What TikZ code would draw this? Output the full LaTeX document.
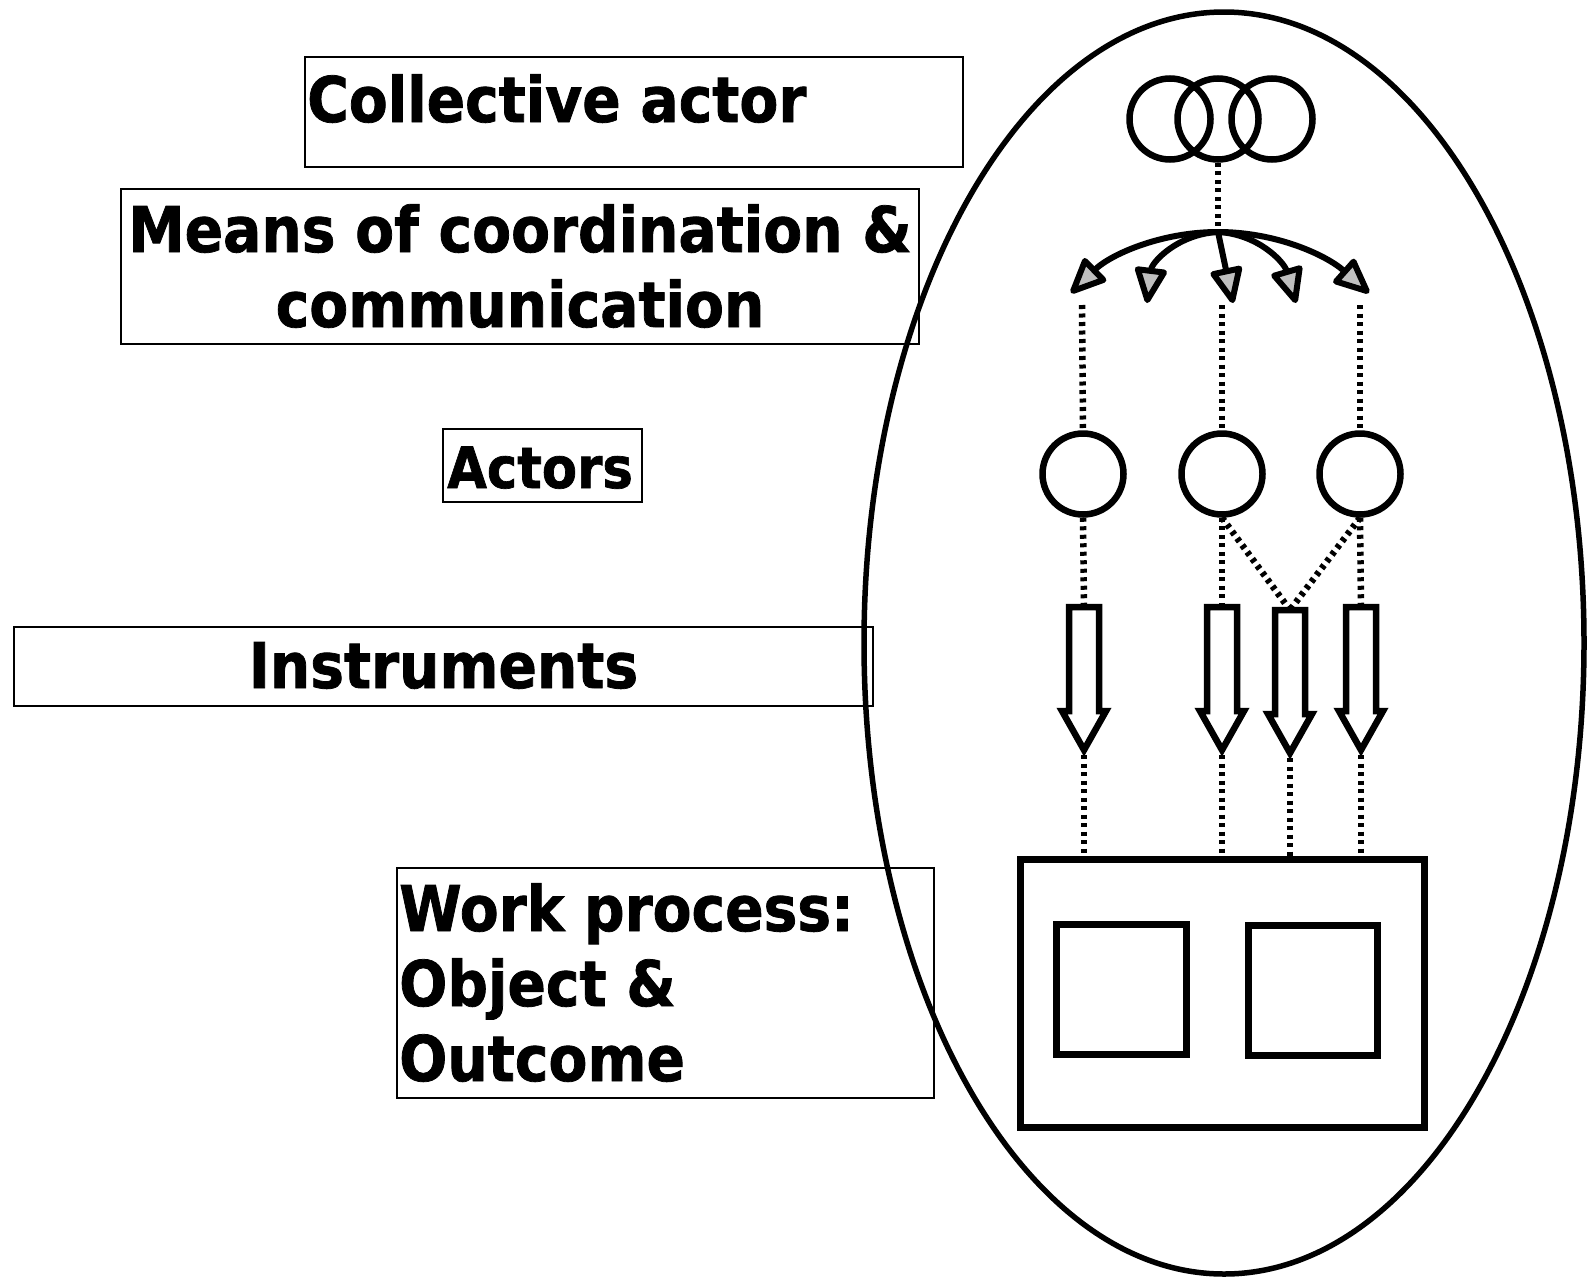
\documentclass[tikz,border=0pt]{standalone}
\usepackage{fontspec}
\newfontfamily\labfont{DejaVu Sans Bold}[FakeStretch=0.9,FakeBold=1.2]
\usetikzlibrary{arrows.meta,calc}
\begin{document}
\begin{tikzpicture}[x=1pt,y=-1pt,
  tbox/.style={draw=black, line width=1.8pt, inner sep=0pt, outer sep=0pt},
  lab/.style={font=\labfont\fontsize{63}{75}\selectfont, inner sep=0pt},
  ring/.style={circle, draw, line width=6.5pt, minimum size=81pt, inner sep=0pt},
  sq/.style={rectangle, draw, line width=7pt, inner sep=0pt},
  dots/.style={line width=6.5pt, dash pattern=on 4pt off 4.5pt},
  garrow/.style={line width=6pt, -{Triangle[length=40pt,width=34pt,fill=black!25,line join=round]}},
  blockarrow/.pic={
    \draw[line width=6.5pt, line join=miter]
      (-15,0) -- (15,0) -- (15,104) -- (22,104) -- (0,143) -- (-22,104) -- (-15,104) -- cycle;
    \coordinate (-top) at (0,0);
    \coordinate (-tip) at (0,143);
  }
]
\useasboundingbox (0,0) rectangle (1592,1277);

% label boxes
\node[tbox, minimum width=658pt, minimum height=110pt] (cabox) at (634,112) {};
\node[lab, anchor=base west] (catext) at (307,122) {Collective actor};

\node[tbox, minimum width=798pt, minimum height=155pt] (mbox) at (520,266.5) {};
\node[lab, align=center, anchor=base] (mtext) at (520,327) {Means of coordination \&\\communication};

\node[tbox, minimum width=199pt, minimum height=73pt] (abox) at (542.5,465.5) {};
\node[lab, font=\labfont\fontsize{57}{68}\selectfont, anchor=base west] (atext) at (447,488) {Actors};

\node[tbox, minimum width=859pt, minimum height=79pt] (ibox) at (443.5,666.5) {};
\node[lab, anchor=base] (itext) at (443.5,688) {Instruments};

\node[tbox, minimum width=537pt, minimum height=230pt] (wpbox) at (665.5,983) {};
\node[lab, align=left, anchor=base west] (wptext) at (399,1081) {Work process:\\Object \&\\Outcome};

% big ellipse
\draw[line width=5.5pt] (1224,643) ellipse [x radius=360pt, y radius=631pt];

% collective actor rings
\node[ring] (c1) at (1170,119) {};
\node[ring] (c2) at (1218,119) {};
\node[ring] (c3) at (1272,119) {};

\coordinate (apex) at (1218,232);
\draw[dots] (c2.south) -- (apex);

% coordination arrows
\draw[garrow] (apex) .. controls (1160,232) and (1110,255) .. (1071,293);
\draw[garrow] (apex) .. controls (1178,234) and (1152,262) .. (1147,303);
\draw[garrow] (apex) -- (1233,303);
\draw[garrow] (apex) .. controls (1258,234) and (1284,262) .. (1296,303);
\draw[garrow] (apex) .. controls (1276,232) and (1326,255) .. (1369,293);

% actors
\node[ring] (a1) at (1083,474) {};
\node[ring] (a2) at (1222,474) {};
\node[ring] (a3) at (1360,474) {};

\coordinate (d1) at (1082,305);
\coordinate (d2) at (1222,305);
\coordinate (d3) at (1360,305);
\draw[dots] (d1) -- (a1.north);
\draw[dots] (d2) -- (a2.north);
\draw[dots] (d3) -- (a3.north);

% instruments (block arrows)
\pic (ba1) at (1084,607) {blockarrow};
\pic (ba2) at (1222,607) {blockarrow};
\pic (ba3) at (1290,610) {blockarrow};
\pic (ba4) at (1361,607) {blockarrow};

\draw[dots] (a1.south) -- (ba1-top);
\draw[dots] (a2.south) -- (ba2-top);
\draw[dots] (a3.south) -- (ba4-top);
\draw[dots] (a2.south) -- (ba3-top);
\draw[dots] (a3.south) -- (ba3-top);

% work process
\node[sq, minimum width=404pt, minimum height=268pt] (wbox) at (1222.5,993.5) {};
\node[sq, minimum width=130pt, minimum height=130pt] (obj) at (1121.5,989.5) {};
\node[sq, minimum width=129pt, minimum height=130pt] (out) at (1313,990.5) {};

\draw[dots] ($(ba1-tip)+(0,5)$) -- (ba1-tip |- wbox.north);
\draw[dots] ($(ba2-tip)+(0,5)$) -- (ba2-tip |- wbox.north);
\draw[dots] ($(ba3-tip)+(0,5)$) -- (ba3-tip |- wbox.north);
\draw[dots] ($(ba4-tip)+(0,5)$) -- (ba4-tip |- wbox.north);
\end{tikzpicture}
\end{document}
